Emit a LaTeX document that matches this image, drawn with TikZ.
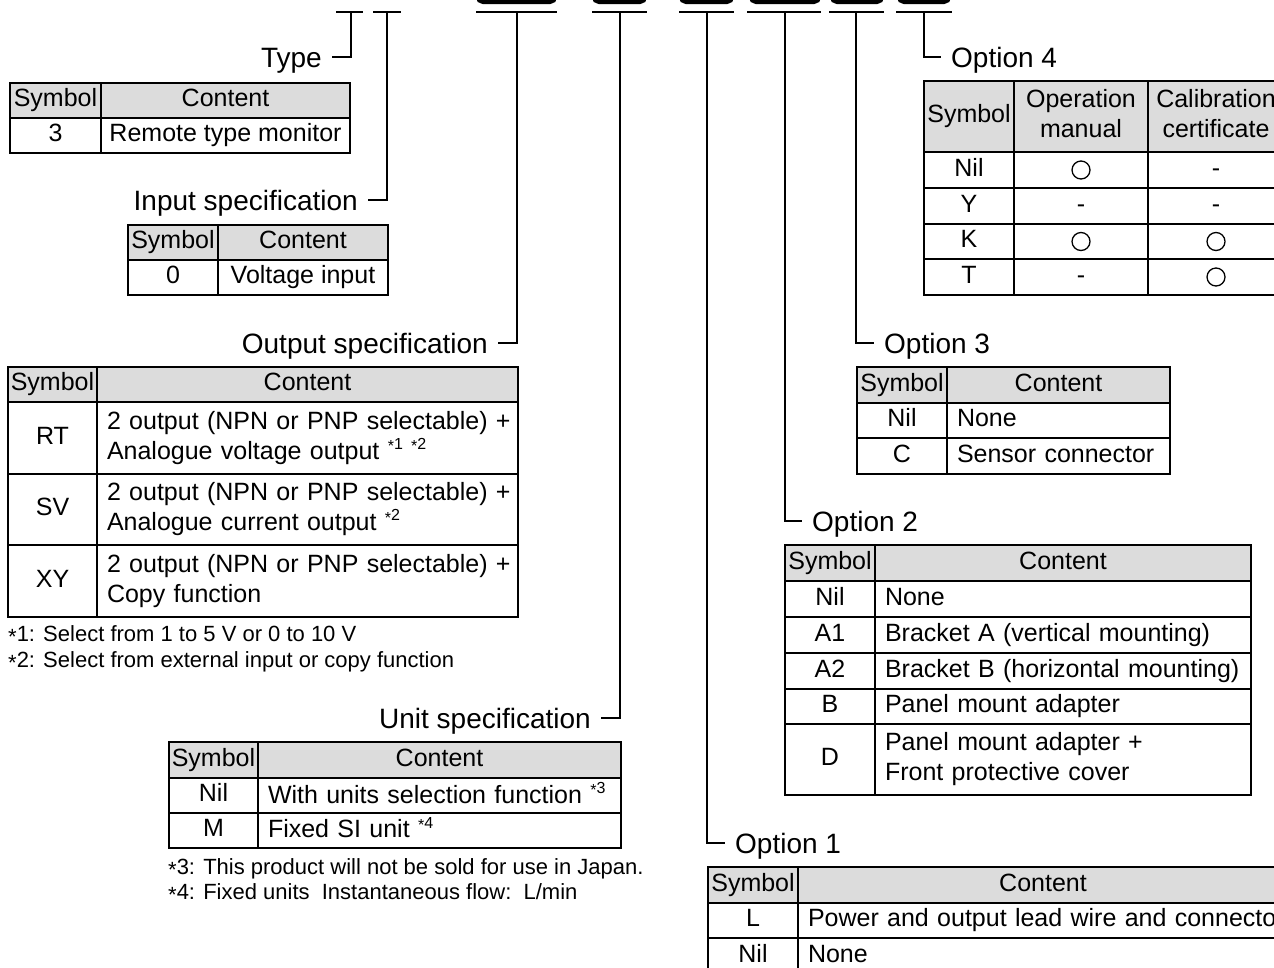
\documentclass[tikz,border=0pt]{standalone}
\usepackage{fontspec}
\setmainfont{Liberation Sans}
\definecolor{hdr}{RGB}{220,220,220}
\newcommand\tabf{\fontsize{25}{30}\selectfont}
\newcommand\lblf{\fontsize{28}{32}\selectfont}
\newcommand\fnf{\fontsize{22}{26}\selectfont}
\newcommand\fnast{\raisebox{-0.3ex}{*}}
\newcommand\sref[1]{\raisebox{0.75ex}{\fontsize{16}{16}\selectfont\fnast#1}}
\newcommand\cs{\rule[-6pt]{0pt}{24pt}}
\newcommand\cc[7][cell]{\node[#1, minimum width=#5pt, minimum height=#6pt] (#2) at (#3,#4) {#7};}
\newcommand\cl[6]{\pgfmathsetmacro\tw{#4-20}\node[lcell, text width=\tw pt, minimum height=#5pt] (#1) at (#2,#3) {#6};}
\begin{document}
\begin{tikzpicture}[x=1pt,y=-1pt,
  cell/.style={draw, line width=2pt, inner sep=0pt, anchor=north west, font=\tabf, align=center,
    execute at begin node=\cs, execute at end node=\cs},
  hcell/.style={cell, fill=hdr},
  lcell/.style={cell, inner xsep=10pt, align=left},
  lbl/.style={font=\lblf, inner xsep=10pt, inner ysep=0pt, text height=20pt, text depth=0pt},
  fn/.style={font=\fnf, anchor=base west, inner sep=0pt},
  ring/.style={circle, draw, line width=1.3pt, minimum size=18pt, inner sep=0pt},
  topbox/.style={draw, line width=4.5pt, rounded corners=5pt, anchor=south, minimum height=40pt},
  conn/.style={line width=2pt}]
\path[use as bounding box, fill=white] (0,0) rectangle (1274,967);

% ---- top boxes ----
\node[topbox, minimum width=77pt] (b1) at (516.5,4) {};
\node[topbox, minimum width=51pt] (b2) at (619.5,4) {};
\node[topbox, minimum width=51pt] (b3) at (706.5,4) {};
\node[topbox, minimum width=68pt] (b4) at (785,4) {};
\node[topbox, minimum width=50pt] (b5) at (857,4) {};
\node[topbox, minimum width=50pt] (b6) at (924,4) {};

% ---- bars ----
\coordinate (t1L) at (336,12); \coordinate (t1R) at (363,12); \coordinate (t1) at (351,12);
\coordinate (t2L) at (373,12); \coordinate (t2R) at (401,12); \coordinate (t2) at (387,12);
\coordinate (t3L) at (476,12); \coordinate (t3R) at (557,12); \coordinate (t3) at (517,12);
\coordinate (t4L) at (592,12); \coordinate (t4R) at (647,12); \coordinate (t4) at (620,12);
\coordinate (t5L) at (679,12); \coordinate (t5R) at (734,12); \coordinate (t5) at (707,12);
\coordinate (t6L) at (747,12); \coordinate (t6R) at (821,12); \coordinate (t6) at (785,12);
\coordinate (t7L) at (829,12); \coordinate (t7R) at (884,12); \coordinate (t7) at (856,12);
\coordinate (t8L) at (896,12); \coordinate (t8R) at (952,12); \coordinate (t8) at (924,12);
\foreach \i in {1,...,8}{\draw[conn] (t\i L) -- (t\i R);}

% ---- labels ----
\node[lbl, anchor=east] (lType) at (332,57) {Type};
\node[lbl, anchor=east] (lIn) at (368,200) {Input specification};
\node[lbl, anchor=east] (lOut) at (498,343) {Output specification};
\node[lbl, anchor=east] (lUnit) at (601,718) {Unit specification};
\node[lbl, anchor=west] (lO4) at (941,57) {Option 4};
\node[lbl, anchor=west] (lO3) at (874,343) {Option 3};
\node[lbl, anchor=west] (lO2) at (802,521) {Option 2};
\node[lbl, anchor=west] (lO1) at (725,843) {Option 1};

\draw[conn] (t1) |- (lType.east);
\draw[conn] (t2) |- (lIn.east);
\draw[conn] (t3) |- (lOut.east);
\draw[conn] (t4) |- (lUnit.east);
\draw[conn] (t5) |- (lO1.west);
\draw[conn] (t6) |- (lO2.west);
\draw[conn] (t7) |- (lO3.west);
\draw[conn] (t8) |- (lO4.west);

% ---- Type table ----
\cc[hcell]{tyH1}{9}{82}{91}{35}{Symbol}
\cc[hcell]{tyH2}{100}{82}{249}{35}{Content}
\cc{tyS1}{9}{117}{91}{35}{3}
\cc{tyC1}{100}{117}{249}{35}{Remote type monitor}

% ---- Input table ----
\cc[hcell]{inH1}{127}{224}{90}{35}{Symbol}
\cc[hcell]{inH2}{217}{224}{170}{35}{Content}
\cc{inS1}{127}{259}{90}{35}{0}
\cc{inC1}{217}{259}{170}{35}{Voltage input}

% ---- Output table ----
\cc[hcell]{ouH1}{7}{366}{89}{35}{Symbol}
\cc[hcell]{ouH2}{96}{366}{421}{35}{Content}
\cc{ouS1}{7}{401}{89}{72}{RT}
\cl{ouC1}{96}{401}{421}{72}{\mbox{2 output (NPN or PNP selectable) +}\\\mbox{Analogue voltage output \sref{1} \sref{2}}}
\cc{ouS2}{7}{473}{89}{71}{SV}
\cl{ouC2}{96}{473}{421}{71}{\mbox{2 output (NPN or PNP selectable) +}\\\mbox{Analogue current output \sref{2}}}
\cc{ouS3}{7}{544}{89}{72}{XY}
\cl{ouC3}{96}{544}{421}{72}{\mbox{2 output (NPN or PNP selectable) +}\\Copy function}
\node[fn] (fn1) at (8,641) {\fnast1: Select from 1 to 5 V or 0 to 10 V};
\node[fn] (fn2) at (8,667) {\fnast2: Select from external input or copy function};

% ---- Unit table ----
\cc[hcell]{unH1}{168}{741}{89}{36}{Symbol}
\cc[hcell]{unH2}{257}{741}{363}{36}{Content}
\cc{unS1}{168}{777}{89}{35}{Nil}
\cl{unC1}{257}{777}{363}{35}{\mbox{With units selection function \sref{3}}}
\cc{unS2}{168}{812}{89}{35}{M}
\cl{unC2}{257}{812}{363}{35}{Fixed SI unit \sref{4}}
\node[fn] (fn3) at (168,874) {\fnast3: This product will not be sold for use in Japan.};
\node[fn] (fn4) at (168,899) {\fnast4: Fixed units\ \ Instantaneous flow:\ \ L/min};

% ---- Option 4 table ----
\cc[hcell]{o4H1}{923}{80}{90}{71}{Symbol}
\cc[hcell]{o4H2}{1013}{80}{134}{71}{Operation\\manual}
\cc[hcell]{o4H3}{1147}{80}{136}{71}{Calibration\\certificate}
\cc{o4S1}{923}{151}{90}{36}{Nil}
\cc{o4A1}{1013}{151}{134}{36}{}
\cc{o4B1}{1147}{151}{136}{36}{-}
\cc{o4S2}{923}{187}{90}{36}{Y}
\cc{o4A2}{1013}{187}{134}{36}{-}
\cc{o4B2}{1147}{187}{136}{36}{-}
\cc{o4S3}{923}{223}{90}{35}{K}
\cc{o4A3}{1013}{223}{134}{35}{}
\cc{o4B3}{1147}{223}{136}{35}{}
\cc{o4S4}{923}{258}{90}{36}{T}
\cc{o4A4}{1013}{258}{134}{36}{-}
\cc{o4B4}{1147}{258}{136}{36}{}
\node[ring] (r1) at (o4A1.center) {};
\node[ring] (r2) at (o4A3.center) {};
\node[ring] (r3) at (o4B3.center) {};
\node[ring] (r4) at (o4B4.center) {};

% ---- Option 3 table ----
\cc[hcell]{o3H1}{856}{366}{90}{36}{Symbol}
\cc[hcell]{o3H2}{946}{366}{223}{36}{Content}
\cc{o3S1}{856}{402}{90}{35}{Nil}
\cl{o3C1}{946}{402}{223}{35}{None}
\cc{o3S2}{856}{437}{90}{36}{C}
\cl{o3C2}{946}{437}{223}{36}{Sensor connector}

% ---- Option 2 table ----
\cc[hcell]{o2H1}{784}{544}{90}{36}{Symbol}
\cc[hcell]{o2H2}{874}{544}{376}{36}{Content}
\cc{o2S1}{784}{580}{90}{36}{Nil}
\cl{o2C1}{874}{580}{376}{36}{None}
\cc{o2S2}{784}{616}{90}{36}{A1}
\cl{o2C2}{874}{616}{376}{36}{Bracket A (vertical mounting)}
\cc{o2S3}{784}{652}{90}{36}{A2}
\cl{o2C3}{874}{652}{376}{36}{\mbox{Bracket B (horizontal mounting)}}
\cc{o2S4}{784}{688}{90}{35}{B}
\cl{o2C4}{874}{688}{376}{35}{Panel mount adapter}
\cc{o2S5}{784}{723}{90}{71}{D}
\cl{o2C5}{874}{723}{376}{71}{Panel mount adapter +\\Front protective cover}

% ---- Option 1 table ----
\cc[hcell]{o1H1}{707}{866}{90}{36}{Symbol}
\cc[hcell]{o1H2}{797}{866}{490}{36}{Content}
\cc{o1S1}{707}{902}{90}{35}{L}
\cl{o1C1}{797}{902}{490}{35}{\mbox{Power and output lead wire and connector}}
\cc{o1S2}{707}{937}{90}{36}{Nil}
\cl{o1C2}{797}{937}{490}{36}{None}
\end{tikzpicture}
\end{document}
